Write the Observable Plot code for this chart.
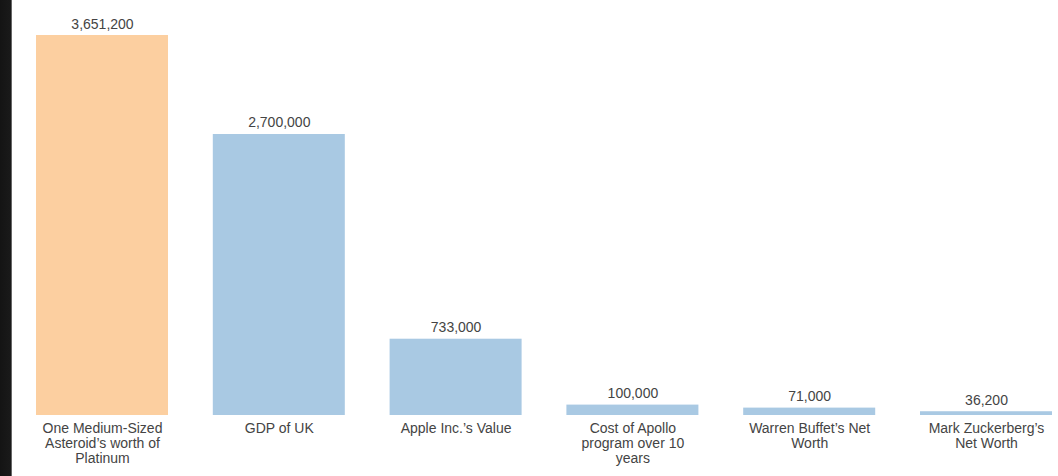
<!DOCTYPE html>
<html>
<head>
<meta charset="utf-8">
<script src="https://cdn.jsdelivr.net/npm/d3@7"></script>
<script src="https://cdn.jsdelivr.net/npm/@observablehq/plot@0.6"></script>
<style>
  html, body { margin: 0; padding: 0; background: #fff; }
  #wrap {
    width: 1058px; height: 476px; overflow: hidden;
    background: linear-gradient(to right, #141414 0px, #1a1a1a 11px, #ffffff 12.5px, #ffffff 100%);
  }
  #wrap svg { display: block; }
</style>
</head>
<body>
<div id="wrap"></div>
<script>
// Categories (with line breaks as shown in the reference)
const categories = [
  "One Medium-Sized\nAsteroid’s worth of\nPlatinum",
  "GDP of UK",
  "Apple Inc.’s Value",
  "Cost of Apollo\nprogram over 10\nyears",
  "Warren Buffet’s Net\nWorth",
  "Mark Zuckerberg’s\nNet Worth"
];
// Values (as labelled)
const values = [3651200, 2700000, 733000, 100000, 71000, 36200];
// Group used for colour
const groups = ["asteroid", "other", "other", "other", "other", "other"];

const data = categories.map((c, i) => ({ category: c, value: values[i], group: groups[i] }));
const fmt = d3.format(",");

const chart = Plot.plot({
  width: 1058,
  height: 476,
  marginTop: 35,
  marginBottom: 61,
  marginLeft: 36,
  marginRight: 6,
  style: { fontFamily: "'Liberation Sans', Arial, Helvetica, sans-serif", fontSize: "14px", background: "transparent" },
  x: { domain: categories, paddingInner: 0.2534, paddingOuter: 0, round: false, axis: null },
  y: { domain: [0, 3651200], axis: null },
  color: { domain: ["asteroid", "other"], range: ["#FCCFA0", "#A9C9E3"] },
  marks: [
    Plot.barY(data, { x: "category", y: "value", fill: "group" }),
    Plot.text(data, { x: "category", y: "value", text: d => fmt(d.value), lineAnchor: "bottom", dy: -7, fill: "#444", fontSize: 14, letterSpacing: "0.2px" }),
    Plot.text(data, { x: "category", y: () => 0, text: "category", lineAnchor: "top", dy: 7, lineHeight: 1.07, fill: "#444", fontSize: 14, letterSpacing: "0.1px" })
  ]
});
document.getElementById("wrap").appendChild(chart);
</script>
</body>
</html>
